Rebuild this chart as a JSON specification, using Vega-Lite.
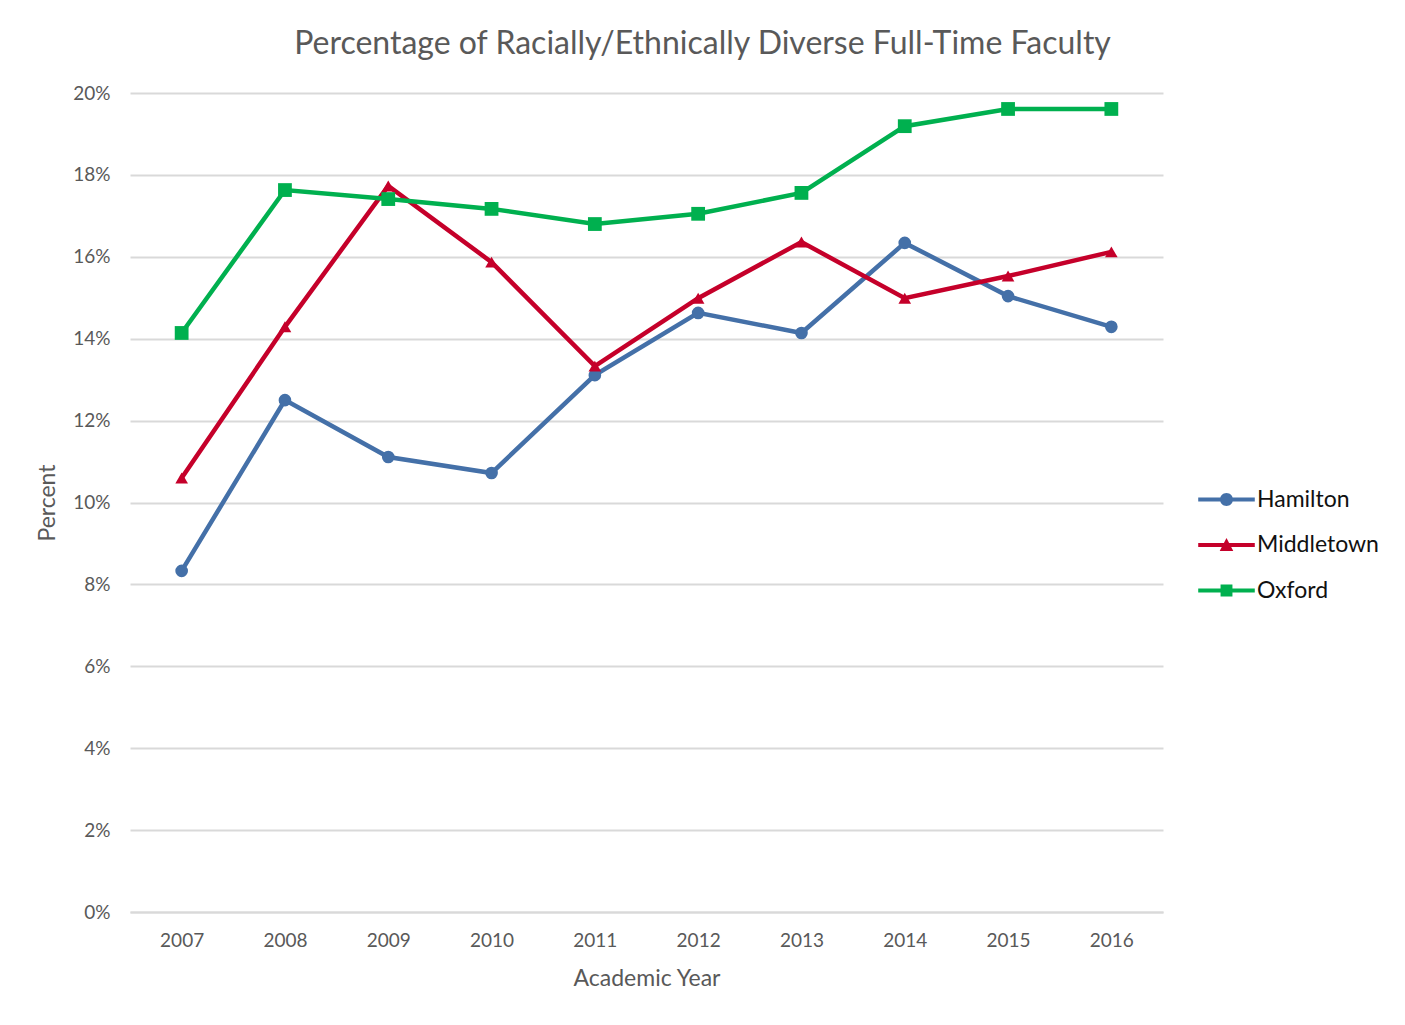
{
  "$schema": "https://vega.github.io/schema/vega-lite/v6.json",
  "width": 1033,
  "height": 819,
  "autosize": {"type": "none"},
  "padding": {"left": 130, "top": 93, "right": 242, "bottom": 113},
  "background": "white",
  "view": {"stroke": null},
  "title": {
    "text": "Percentage of Racially/Ethnically Diverse Full-Time Faculty",
    "font": "Lato",
    "fontSize": 32,
    "fontWeight": "normal",
    "color": "#595959",
    "anchor": "middle",
    "dx": 56,
    "offset": 23
  },
  "data": {
    "values": [
      {"year": "2007", "campus": "Hamilton", "pct": 0.0833},
      {"year": "2008", "campus": "Hamilton", "pct": 0.1250},
      {"year": "2009", "campus": "Hamilton", "pct": 0.1111},
      {"year": "2010", "campus": "Hamilton", "pct": 0.1072},
      {"year": "2011", "campus": "Hamilton", "pct": 0.1311},
      {"year": "2012", "campus": "Hamilton", "pct": 0.1463},
      {"year": "2013", "campus": "Hamilton", "pct": 0.1414},
      {"year": "2014", "campus": "Hamilton", "pct": 0.1634},
      {"year": "2015", "campus": "Hamilton", "pct": 0.1504},
      {"year": "2016", "campus": "Hamilton", "pct": 0.1429},
      {"year": "2007", "campus": "Middletown", "pct": 0.1060},
      {"year": "2008", "campus": "Middletown", "pct": 0.1429},
      {"year": "2009", "campus": "Middletown", "pct": 0.1773},
      {"year": "2010", "campus": "Middletown", "pct": 0.1587},
      {"year": "2011", "campus": "Middletown", "pct": 0.1333},
      {"year": "2012", "campus": "Middletown", "pct": 0.1499},
      {"year": "2013", "campus": "Middletown", "pct": 0.1636},
      {"year": "2014", "campus": "Middletown", "pct": 0.1499},
      {"year": "2015", "campus": "Middletown", "pct": 0.1553},
      {"year": "2016", "campus": "Middletown", "pct": 0.1612},
      {"year": "2007", "campus": "Oxford", "pct": 0.1414},
      {"year": "2008", "campus": "Oxford", "pct": 0.1763},
      {"year": "2009", "campus": "Oxford", "pct": 0.1741},
      {"year": "2010", "campus": "Oxford", "pct": 0.1717},
      {"year": "2011", "campus": "Oxford", "pct": 0.1680},
      {"year": "2012", "campus": "Oxford", "pct": 0.1705},
      {"year": "2013", "campus": "Oxford", "pct": 0.1756},
      {"year": "2014", "campus": "Oxford", "pct": 0.1919},
      {"year": "2015", "campus": "Oxford", "pct": 0.1961},
      {"year": "2016", "campus": "Oxford", "pct": 0.1961}
    ]
  },
  "encoding": {
    "x": {
      "field": "year",
      "type": "ordinal",
      "scale": {"type": "point", "padding": 0.5},
      "axis": {
        "title": "Academic Year",
        "titleFont": "Lato",
        "titleFontSize": 23,
        "titleFontWeight": "normal",
        "titleColor": "#595959",
        "titlePadding": 17,
        "labelFont": "Lato",
        "labelFontSize": 19,
        "labelColor": "#595959",
        "labelAngle": 0,
        "labelPadding": 19,
        "ticks": false,
        "domain": true,
        "domainColor": "#d9d9d9",
        "domainWidth": 2,
        "grid": false
      }
    },
    "y": {
      "field": "pct",
      "type": "quantitative",
      "scale": {"domain": [0, 0.2], "nice": false},
      "axis": {
        "title": "Percent",
        "titleFont": "Lato",
        "titleFontSize": 23,
        "titleFontWeight": "normal",
        "titleColor": "#595959",
        "titlePadding": 13,
        "labelFont": "Lato",
        "labelFontSize": 19,
        "labelColor": "#595959",
        "labelPadding": 20,
        "format": ".0%",
        "values": [0, 0.02, 0.04, 0.06, 0.08, 0.1, 0.12, 0.14, 0.16, 0.18, 0.2],
        "ticks": false,
        "domain": false,
        "grid": true,
        "gridColor": "#d9d9d9",
        "gridWidth": 2
      }
    },
    "color": {
      "field": "campus",
      "type": "nominal",
      "scale": {"domain": ["Hamilton", "Middletown", "Oxford"], "range": ["#4470A8", "#C5002A", "#00B04F"]},
      "legend": {
        "title": null,
        "orient": "none",
        "legendX": 1068,
        "legendY": 378,
        "labelFont": "Lato",
        "labelFontSize": 23,
        "labelColor": "#111111",
        "labelOffset": 2,
        "symbolSize": 3200,
        "rowPadding": 4.5,
        "symbolStrokeWidth": 0,
        "encode": {
          "symbols": {
            "update": {
              "shape": {"signal": "datum.value === 'Hamilton' ? 'M-1,-0.07H1V0.07H-1Z M0.23,0A0.23,0.23 0 1,1 -0.23,0A0.23,0.23 0 1,1 0.23,0Z' : datum.value === 'Middletown' ? 'M-1,-0.07H1V0.07H-1Z M0,-0.25L0.24,0.21L-0.24,0.21Z' : 'M-1,-0.07H1V0.07H-1Z M-0.21,-0.21H0.21V0.21H-0.21Z'"},
              "fill": {"signal": "scale('color', datum.value)"},
              "size": {"value": 3200},
              "strokeWidth": {"value": 0}
            }
          }
        }
      }
    }
  },
  "layer": [
    {
      "mark": {"type": "line", "strokeWidth": 4.5},
      "encoding": {}
    },
    {
      "transform": [{"filter": "datum.campus === 'Hamilton'"}],
      "mark": {"type": "point", "filled": true, "opacity": 1, "shape": "circle", "size": 160},
      "encoding": {}
    },
    {
      "transform": [{"filter": "datum.campus === 'Middletown'"}],
      "mark": {"type": "point", "filled": true, "opacity": 1, "shape": "triangle-up", "size": 160},
      "encoding": {}
    },
    {
      "transform": [{"filter": "datum.campus === 'Oxford'"}],
      "mark": {"type": "point", "filled": true, "opacity": 1, "shape": "square", "size": 190},
      "encoding": {}
    }
  ]
}
